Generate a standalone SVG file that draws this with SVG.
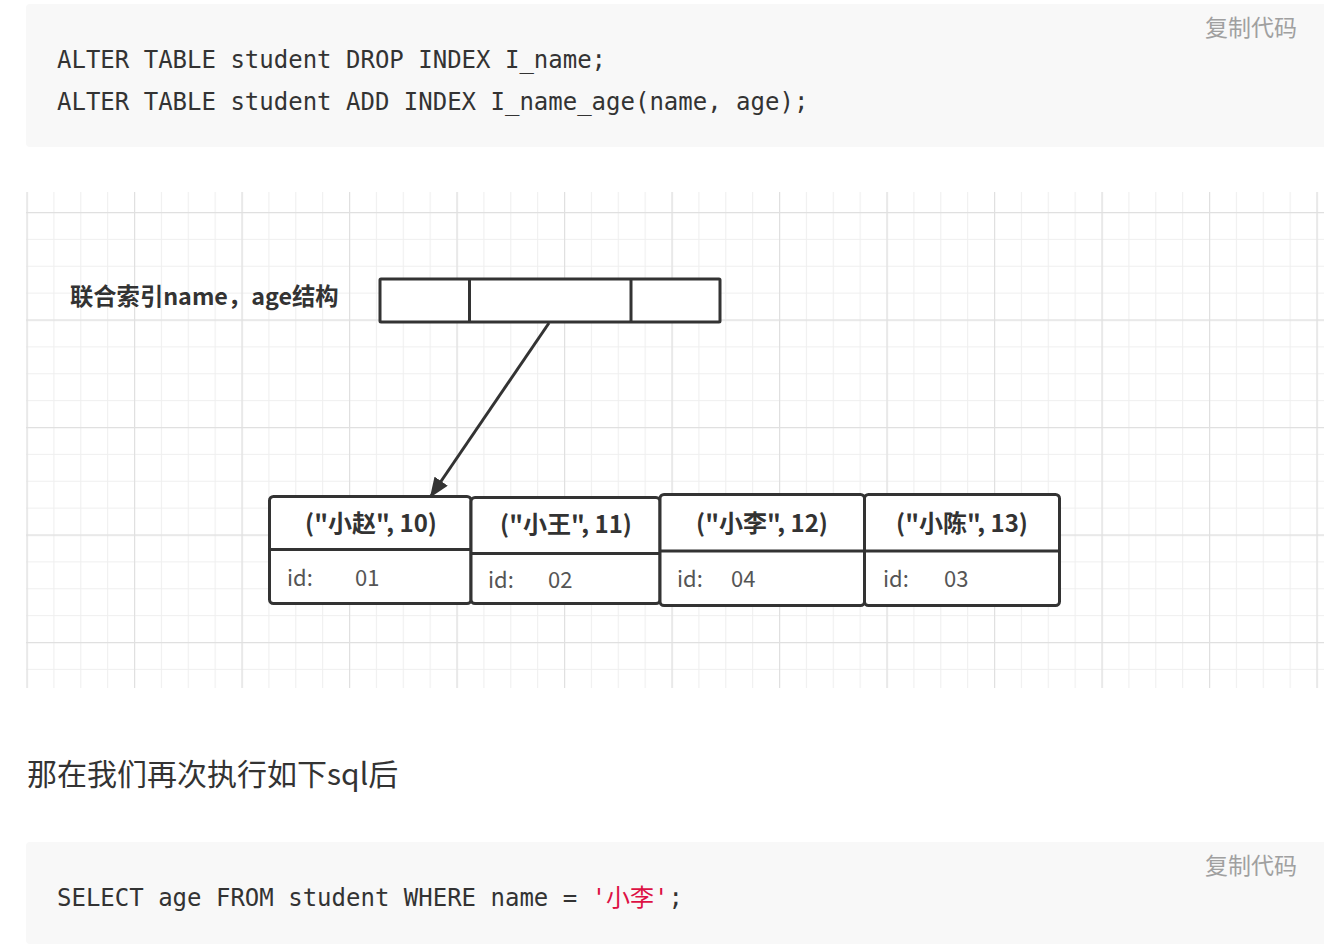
<svg xmlns="http://www.w3.org/2000/svg" width="1324" height="948" viewBox="0 0 1324 948">
<defs>
<pattern id="minor" patternUnits="userSpaceOnUse" x="26.5" y="212" width="26.875" height="26.875">
<path d="M0.5 0V26.875M0 0.5H26.875" stroke="#efefef" stroke-width="1.2" fill="none"/>
</pattern>
<pattern id="major" patternUnits="userSpaceOnUse" x="26.5" y="212" width="107.5" height="107.5">
<path d="M0.5 0V107.5M0 0.5H107.5" stroke="#e0e0e0" stroke-width="1.4" fill="none"/>
</pattern>
<marker id="arrow" viewBox="0 0 20 16" refX="18" refY="8" markerWidth="20" markerHeight="16" markerUnits="userSpaceOnUse" orient="auto">
<path d="M0 0L20 8L0 16Z" fill="#333"/>
</marker>
</defs>
<style>
.code{font-family:"DejaVu Sans Mono","Liberation Mono",monospace;font-size:24px;fill:#333}
.copy{font-family:"Noto Sans CJK SC","Noto Sans",sans-serif;font-size:23px;fill:#a0a0a0}
.box{fill:#fff;stroke:#333;stroke-width:3}
.div{stroke:#333;stroke-width:3}
.hdr{font-family:"Noto Sans CJK SC","Noto Sans",sans-serif;font-size:24px;font-weight:bold;fill:#333;text-anchor:middle}
.idt{font-family:"Noto Sans CJK SC","Noto Sans",sans-serif;font-size:22px;fill:#555}
.lbl{font-family:"Noto Sans CJK SC","Noto Sans",sans-serif;font-size:23.3px;font-weight:bold;fill:#333}
.para{font-family:"Noto Sans CJK SC","Noto Sans",sans-serif;font-size:30px;fill:#333}
</style>
<rect width="1324" height="948" fill="#fff"/>
<g id="code1">
<rect x="26" y="4" width="1302" height="143" rx="4" fill="#f8f8f8"/>
<text class="copy" x="1205" y="36">复制代码</text>
<text class="code" x="57" y="68">ALTER TABLE student DROP INDEX I_name;</text>
<text class="code" x="57" y="110">ALTER TABLE student ADD INDEX I_name_age(name, age);</text>
</g>
<g id="grid">
<rect x="26" y="192" width="1298" height="496" fill="#fff"/>
<rect x="26" y="192" width="1298" height="496" fill="url(#minor)"/>
<rect x="26" y="192" width="1298" height="496" fill="url(#major)"/>
</g>
<g id="label">
<text class="lbl" x="70" y="305">联合索引name，age结构</text>
</g>
<g id="index-node">
<rect class="box" x="380" y="279" width="340" height="43" rx="1"/>
<line class="div" x1="469.5" y1="279" x2="469.5" y2="322"/>
<line class="div" x1="631" y1="279" x2="631" y2="322"/>
</g>
<g id="leaf1">
<rect class="box" x="269.5" y="496.5" width="201.5" height="107" rx="4"/>
<line class="div" x1="269.5" y1="549.5" x2="471" y2="549.5"/>
<text class="hdr" x="371" y="532">("小赵", 10)</text>
<text class="idt" x="287" y="586">id:</text>
<text class="idt" x="355" y="586">01</text>
</g>
<g id="leaf2">
<rect class="box" x="471" y="497.5" width="189" height="106" rx="4"/>
<line class="div" x1="471" y1="553.5" x2="660" y2="553.5"/>
<text class="hdr" x="566" y="533">("小王", 11)</text>
<text class="idt" x="488" y="588">id:</text>
<text class="idt" x="548" y="588">02</text>
</g>
<g id="leaf3">
<rect class="box" x="660" y="494.5" width="204.5" height="111" rx="4"/>
<line class="div" x1="660" y1="551" x2="864.5" y2="551"/>
<text class="hdr" x="762" y="532">("小李", 12)</text>
<text class="idt" x="677" y="587">id:</text>
<text class="idt" x="731" y="587">04</text>
</g>
<g id="leaf4">
<rect class="box" x="864.5" y="494.5" width="195" height="111" rx="4"/>
<line class="div" x1="864.5" y1="551" x2="1059.5" y2="551"/>
<text class="hdr" x="962" y="532">("小陈", 13)</text>
<text class="idt" x="883" y="587">id:</text>
<text class="idt" x="944" y="587">03</text>
</g>
<g id="connectors">
<line x1="549" y1="323" x2="431" y2="496" stroke="#333" stroke-width="3" marker-end="url(#arrow)"/>
</g>
<g id="paragraph">
<text class="para" x="27" y="785">那在我们再次执行如下sql后</text>
</g>
<g id="code2">
<rect x="26" y="842" width="1302" height="102" rx="4" fill="#f8f8f8"/>
<text class="copy" x="1205" y="874">复制代码</text>
<text class="code" x="57" y="906">SELECT age FROM student WHERE name = <tspan fill="#dd1144" font-family="DejaVu Sans Mono, Noto Sans CJK SC, monospace">'小李'</tspan>;</text>
</g>
</svg>
